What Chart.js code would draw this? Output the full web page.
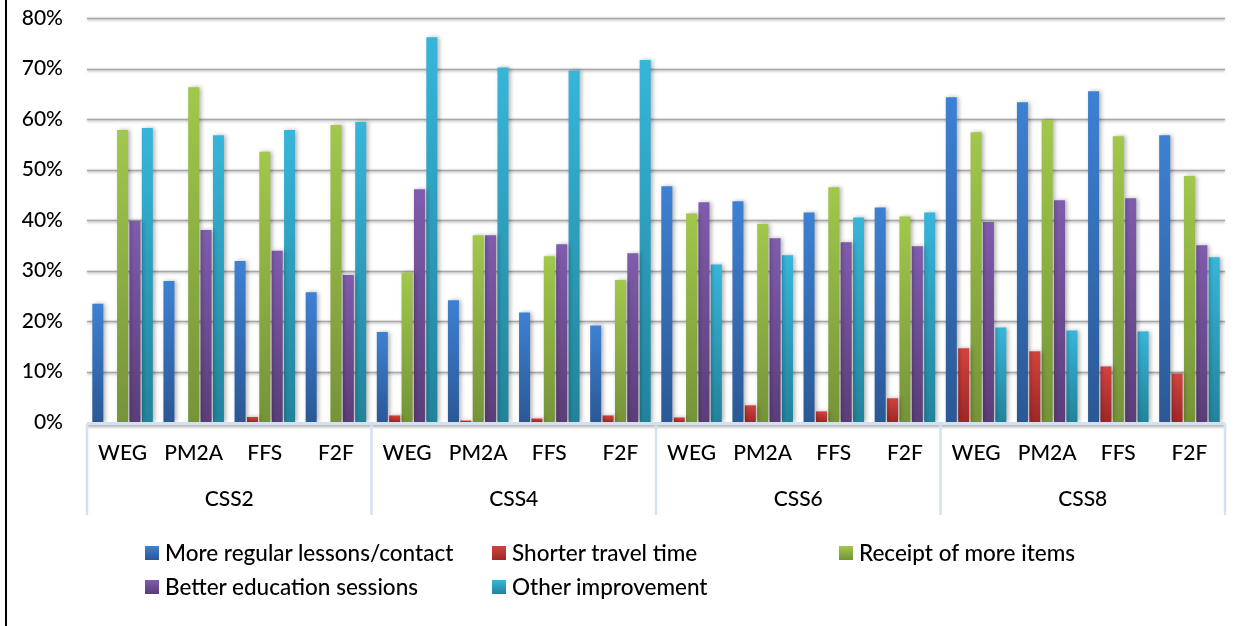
<!DOCTYPE html>
<html>
<head>
<meta charset="utf-8">
<script src="https://cdn.jsdelivr.net/npm/chart.js@4/dist/chart.umd.min.js"></script>
<style>
  html, body { margin: 0; padding: 0; background: #fff; }
  #wrap { position: relative; width: 1251px; height: 626px; overflow: hidden; font-family: Lato, "DejaVu Sans", sans-serif; }
  #frame { position: absolute; left: 5px; top: 0; width: 2px; height: 626px; background: #000; }
  canvas { position: absolute; left: 0; top: 0; }
  .lg { position: absolute; display: flex; align-items: center; font-size: 22.5px; font-weight: 500; color: #000; white-space: nowrap; height: 28px; line-height: 28px; }
  .lg i { display: inline-block; width: 14px; height: 14px; margin-right: 6px; }
</style>
</head>
<body>
<div id="wrap">
  <canvas id="c" width="1251" height="626"></canvas>
  <div id="frame"></div>
</div>
<script>
// Survey groups and the delivery modes within each group
const groups = ['CSS2', 'CSS4', 'CSS6', 'CSS8'];
const modes = ['WEG', 'PM2A', 'FFS', 'F2F'];

// Share of respondents (%) per mode, in group order CSS2, CSS4, CSS6, CSS8
const regularLessons = [23.4, 27.9, 31.9, 25.7, 17.8, 24.1, 21.7, 19.1, 46.7, 43.7, 41.5, 42.5, 64.3, 63.3, 65.5, 56.8];
const shorterTravel  = [0, 0, 1.0, 0, 1.3, 0.3, 0.7, 1.3, 0.9, 3.3, 2.1, 4.7, 14.6, 14.0, 11.0, 9.6];
const moreItems      = [57.8, 66.3, 53.5, 58.8, 29.6, 37.0, 32.8, 28.1, 41.3, 39.2, 46.5, 40.7, 57.4, 59.8, 56.6, 48.7];
const betterSessions = [39.8, 38.0, 33.9, 29.1, 46.1, 37.0, 35.2, 33.4, 43.5, 36.4, 35.6, 34.8, 39.6, 43.9, 44.3, 35.0];
const otherImprove   = [58.2, 56.8, 57.8, 59.4, 76.2, 70.2, 69.6, 71.7, 31.2, 33.0, 40.5, 41.5, 18.7, 18.1, 17.9, 32.6];

const seriesNames = ['More regular lessons/contact', 'Shorter travel time', 'Receipt of more items', 'Better education sessions', 'Other improvement'];

// Axis range and tick spacing (%)
const yMin = 0, yMax = 80, yStep = 10;

// Gradient end colours per series: [top, bottom]
const shades = [
  ['#3d81d3', '#2b5895'],
  ['#d3423d', '#9c2828'],
  ['#a1c84b', '#759339'],
  ['#805cad', '#5b3d78'],
  ['#37b6da', '#22839b']
];

const FONT = 'Lato, "DejaVu Sans", sans-serif';
const tickFont = { family: FONT, size: 21, weight: 500 };

function barFill(idx) {
  return function (ctx) {
    const chart = ctx.chart;
    const y = chart.scales && chart.scales.y;
    if (!y || ctx.type !== 'data' || ctx.parsed == null) return shades[idx][0];
    const top = y.getPixelForValue(ctx.parsed.y);
    const base = y.getPixelForValue(0);
    if (!isFinite(top) || Math.abs(base - top) < 0.5) return shades[idx][0];
    const g = chart.ctx.createLinearGradient(0, top, 0, base);
    g.addColorStop(0, shades[idx][0]);
    g.addColorStop(1, shades[idx][1]);
    return g;
  };
}

const seriesData = [regularLessons, shorterTravel, moreItems, betterSessions, otherImprove];

const catLabels = groups.flatMap(() => modes);

// Gridlines with a soft shadow, drawn beneath the bars; bars also get a shadow
const decor = {
  id: 'decor',
  beforeDatasetsDraw(chart) {
    const { ctx, chartArea, scales: { y } } = chart;
    ctx.save();
    ctx.strokeStyle = '#a9a9a9';
    ctx.lineWidth = 1.5;
    ctx.shadowColor = 'rgba(0,0,0,0.35)';
    ctx.shadowBlur = 3;
    ctx.shadowOffsetY = 1;
    y.ticks.forEach(t => {
      if (t.value === yMin) return;
      const py = Math.round(y.getPixelForValue(t.value)) + 0.5;
      ctx.beginPath();
      ctx.moveTo(chartArea.left, py);
      ctx.lineTo(chartArea.right, py);
      ctx.stroke();
    });
    ctx.restore();
    ctx.save();
    ctx.shadowColor = 'rgba(0,0,0,0.3)';
    ctx.shadowBlur = 4;
    ctx.shadowOffsetX = 2;
    ctx.shadowOffsetY = 0;
  },
  afterDatasetsDraw(chart) {
    const { ctx, chartArea, scales: { x, x2, y } } = chart;
    ctx.restore();
    const base = y.getPixelForValue(yMin);
    // category baseline
    ctx.save();
    ctx.shadowColor = 'rgba(0,0,0,0.35)';
    ctx.shadowBlur = 3;
    ctx.shadowOffsetY = 2;
    ctx.strokeStyle = '#d4e1f1';
    ctx.lineWidth = 3;
    ctx.beginPath();
    ctx.moveTo(chartArea.left, base + 1.5);
    ctx.lineTo(chartArea.right, base + 1.5);
    ctx.stroke();
    ctx.restore();
    // group separators
    ctx.save();
    ctx.strokeStyle = '#d4e1f1';
    ctx.lineWidth = 2.5;
    const per = modes.length;
    const edges = [x.left];
    for (let g = 1; g < groups.length; g++) {
      edges.push((x.getPixelForValue(g * per - 1) + x.getPixelForValue(g * per)) / 2);
    }
    edges.push(x.right);
    edges.forEach(px => {
      ctx.beginPath();
      ctx.moveTo(px, base + 3);
      ctx.lineTo(px, x2.bottom - 5);
      ctx.stroke();
    });
    ctx.restore();
  }
};

const chart = new Chart(document.getElementById('c'), {
  type: 'bar',
  data: {
    labels: catLabels,
    datasets: seriesNames.map((name, i) => ({
      label: name,
      data: seriesData[i],
      backgroundColor: barFill(i),
      borderWidth: 0,
      barPercentage: 0.89,
      categoryPercentage: 0.87,
      xAxisID: 'x',
      yAxisID: 'y'
    }))
  },
  options: {
    responsive: false,
    animation: false,
    devicePixelRatio: 1,
    layout: { padding: { left: 7, right: 26, top: 18, bottom: 106 } },
    plugins: { legend: { display: false }, tooltip: { enabled: false } },
    scales: {
      y: {
        min: yMin, max: yMax,
        ticks: { stepSize: yStep, padding: 24, color: '#000', font: tickFont, callback: v => v + '%' },
        grid: { display: false, drawTicks: false },
        border: { display: false },
        afterFit: s => { s.width = 80; s.paddingTop = 0; s.paddingBottom = 0; }
      },
      x: {
        weight: 0,
        ticks: { padding: 19, color: '#000', font: tickFont, maxRotation: 0, autoSkip: false },
        grid: { display: false, drawTicks: false },
        border: { display: false },
        afterFit: s => { s.height = 54; }
      },
      x2: {
        type: 'category',
        position: 'bottom',
        weight: 1,
        labels: groups,
        offset: true,
        ticks: { padding: 11, color: '#000', font: tickFont, maxRotation: 0, autoSkip: false },
        grid: { display: false, drawTicks: false },
        border: { display: false },
        afterFit: s => { s.height = 44; }
      }
    }
  },
  plugins: [decor]
});

// Legend laid out in three columns below the axis
(function buildLegend() {
  const wrap = document.getElementById('wrap');
  const colX = [145, 492, 839];
  const rowY = [539, 573];
  chart.data.datasets.forEach((ds, i) => {
    const el = document.createElement('div');
    el.className = 'lg';
    el.style.left = colX[i % 3] + 'px';
    el.style.top = rowY[Math.floor(i / 3)] + 'px';
    const sw = document.createElement('i');
    sw.style.background = 'linear-gradient(' + shades[i][0] + ',' + shades[i][1] + ')';
    el.appendChild(sw);
    el.appendChild(document.createTextNode(ds.label));
    wrap.appendChild(el);
  });
})();
</script>
</body>
</html>
